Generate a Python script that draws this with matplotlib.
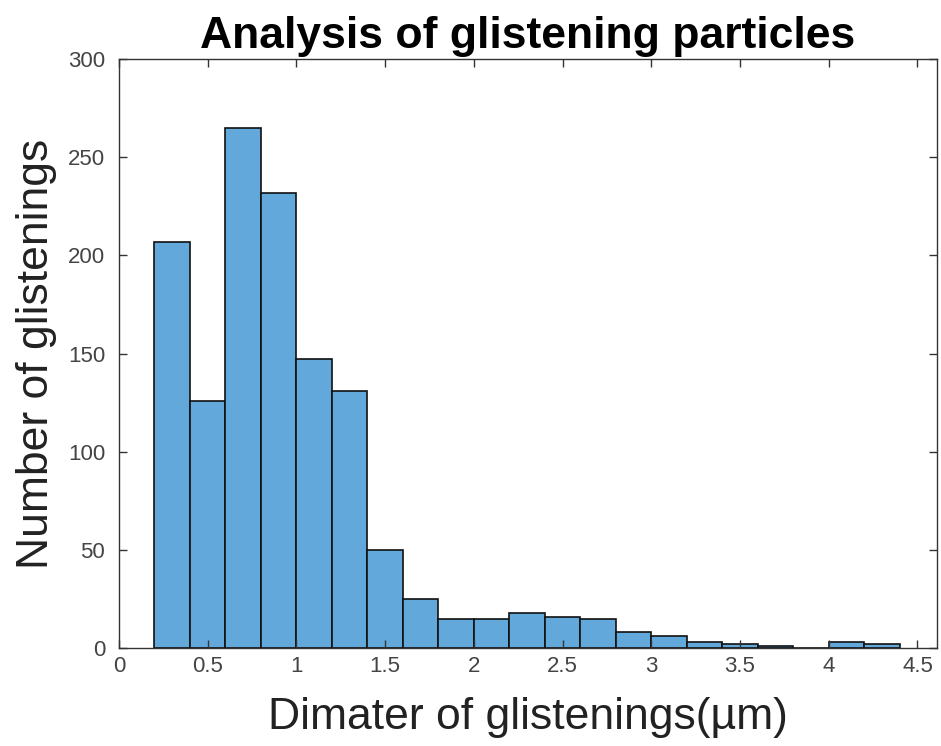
import numpy as np
import matplotlib
matplotlib.use('Agg')
import matplotlib.pyplot as plt

# histogram bin edges (um) and counts
bin_edges = [0.2, 0.4, 0.6, 0.8, 1.0, 1.2, 1.4, 1.6, 1.8, 2.0, 2.2, 2.4,
             2.6, 2.8, 3.0, 3.2, 3.4, 3.6, 3.8, 4.0, 4.2, 4.4]
counts = [207, 126, 265, 232, 147, 131, 50, 25, 15, 15, 18, 16,
          15, 8, 6, 3, 2, 1, 0, 3, 2]
x_ticks = [0, 0.5, 1, 1.5, 2, 2.5, 3, 3.5, 4, 4.5]
x_tick_labels = ['0', '0.5', '1', '1.5', '2', '2.5', '3', '3.5', '4', '4.5']
y_ticks = [0, 50, 100, 150, 200, 250, 300]

plt.rcParams['font.family'] = ['Liberation Sans', 'DejaVu Sans']

fig = plt.figure(figsize=(9.41, 7.46), dpi=100)
ax = fig.add_axes([119 / 941, 1 - 648 / 746, (937 - 119) / 941, (648 - 59) / 746])

widths = np.diff(bin_edges)
ax.bar(bin_edges[:-1], counts, width=widths, align='edge',
       color='#62a8da', edgecolor='#111111', linewidth=1.2)

ax.set_xlim(0, 4.61)
ax.set_ylim(0, 300)
ax.set_xticks(x_ticks)
ax.set_xticklabels(x_tick_labels)
ax.set_yticks(y_ticks)
ax.tick_params(direction='in', top=True, right=True, length=6, width=1,
               labelsize=16, labelcolor='#444444', color='#333333')
ax.tick_params(axis='x', pad=6)
ax.tick_params(axis='y', pad=10)
for s in ax.spines.values():
    s.set_color('#333333')
    s.set_linewidth(1)

ax.set_title('Analysis of glistening particles', fontsize=32, fontweight='bold', pad=8)
ax.set_xlabel('Dimater of glistenings(µm)', fontsize=32, color='#222222', labelpad=14)
ax.set_ylabel('Number of glistenings', fontsize=32, color='#222222', labelpad=8)

fig.savefig('out.png', dpi=100)
